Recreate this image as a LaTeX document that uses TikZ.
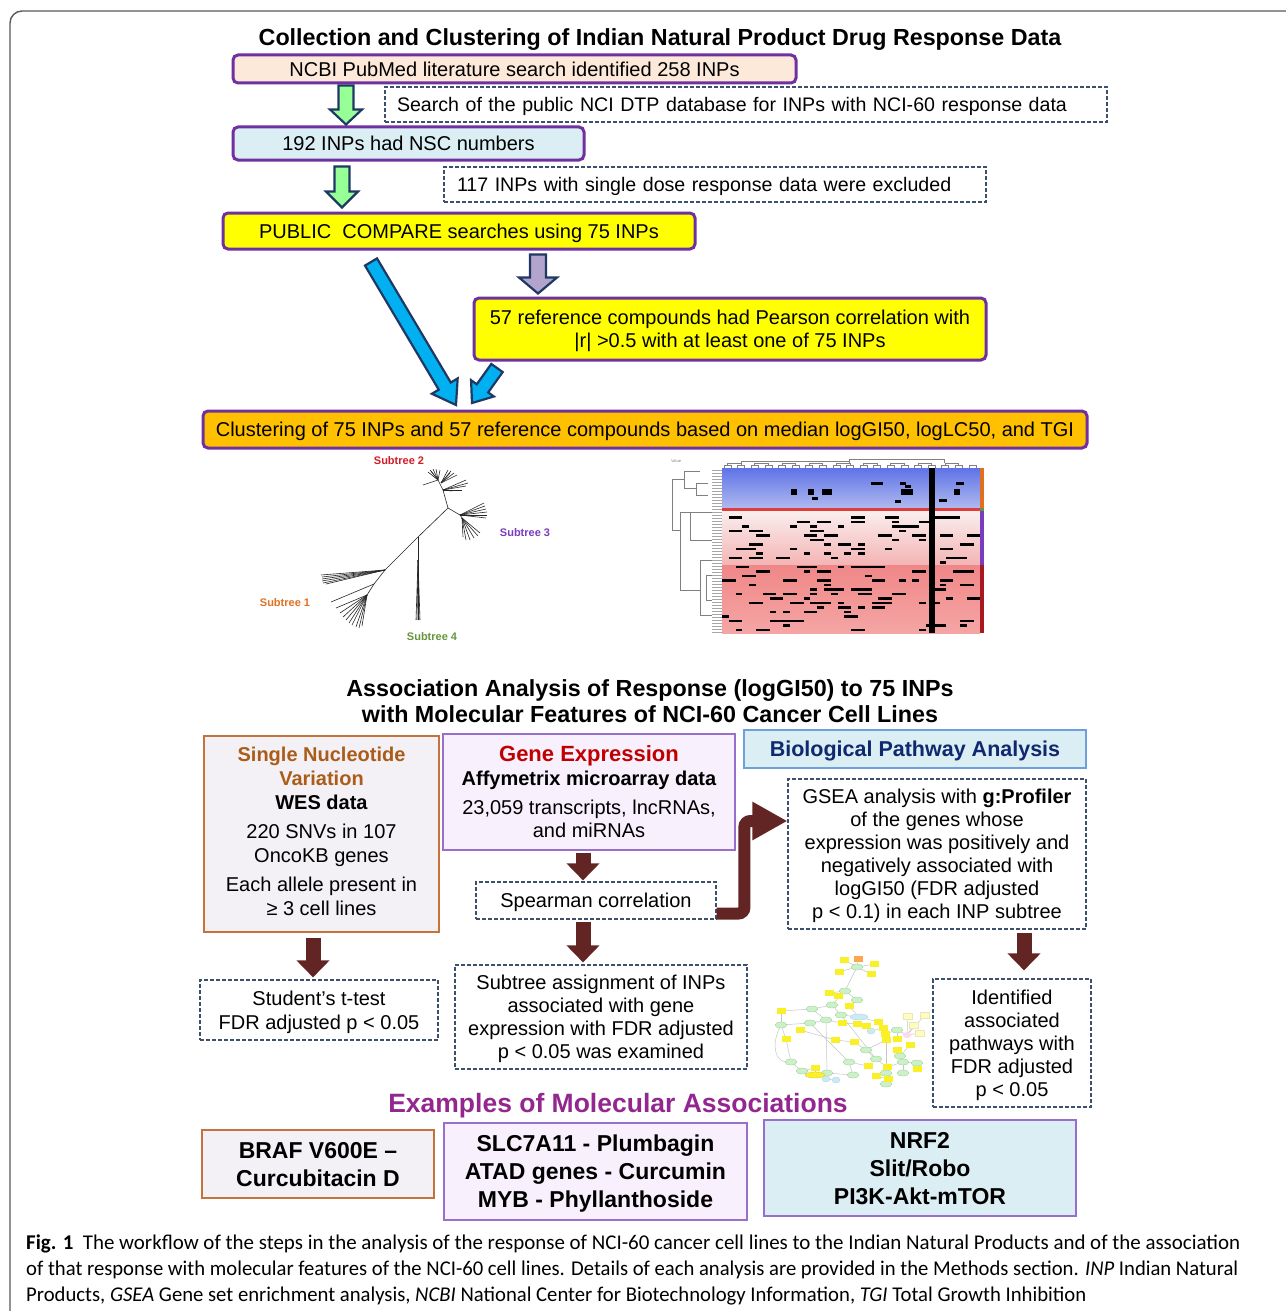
\documentclass[tikz,border=0pt]{standalone}
\usepackage{fontspec}
\setmainfont{Liberation Sans}
\newfontfamily\capfont{Carlito}
\usetikzlibrary{arrows.meta,calc}

\definecolor{peach}{RGB}{253,233,217}
\definecolor{lblue}{RGB}{218,238,243}
\definecolor{ylw}{RGB}{255,255,0}
\definecolor{orng}{RGB}{255,192,0}
\definecolor{bpurple}{RGB}{112,48,160}
\definecolor{navy}{RGB}{31,56,100}
\definecolor{dashc}{RGB}{60,80,110}
\definecolor{agreen}{RGB}{150,255,150}
\definecolor{apurple}{RGB}{178,164,204}
\definecolor{acyan}{RGB}{0,176,240}
\definecolor{dred}{RGB}{99,37,35}
\definecolor{snvfill}{RGB}{243,241,246}
\definecolor{snvdraw}{RGB}{196,116,56}
\definecolor{snvtext}{RGB}{170,92,24}
\definecolor{gefill}{RGB}{248,240,252}
\definecolor{gedraw}{RGB}{153,110,204}
\definecolor{gered}{RGB}{192,0,0}
\definecolor{bpadraw}{RGB}{110,160,220}
\definecolor{bpatext}{RGB}{16,40,110}
\definecolor{expurple}{RGB}{147,39,143}
\definecolor{framec}{RGB}{90,90,90}
\definecolor{stone}{RGB}{224,112,32}
\definecolor{sttwo}{RGB}{210,30,40}
\definecolor{stthree}{RGB}{120,60,190}
\definecolor{stfour}{RGB}{100,150,60}
\definecolor{hmblueA}{RGB}{95,115,230}
\definecolor{hmblueB}{RGB}{175,185,240}
\definecolor{hmredA}{RGB}{225,60,60}
\definecolor{hmredB}{RGB}{250,238,238}
\definecolor{hmredC}{RGB}{244,180,180}
\definecolor{hmredD}{RGB}{240,135,135}
\definecolor{hmredE}{RGB}{245,165,165}
\definecolor{netyel}{RGB}{250,240,40}
\definecolor{netgrn}{RGB}{205,240,200}
\definecolor{netblu}{RGB}{200,235,245}

\newcommand{\blockarrow}[6]{%
  \coordinate (bas) at (#2);
  \coordinate (bae) at (#3);
  \coordinate (bah) at ($(bae)!#6!(bas)$);
  \path[#1] ($(bas)!#4!90:(bae)$) -- ($(bah)!#4!90:(bae)$) -- ($(bah)!#5!90:(bae)$) -- (bae)
    -- ($(bah)!#5!-90:(bae)$) -- ($(bah)!#4!-90:(bae)$) -- ($(bas)!#4!-90:(bae)$) -- cycle;
}

\tikzset{
  txt/.style={font=\fontsize{20}{23}\selectfont, align=center, inner sep=0pt, text depth=0pt},
  pbox/.style={txt, draw=bpurple, line width=3pt, rounded corners=5pt},
  dbox/.style={txt, draw=dashc, line width=1.2pt, dash pattern=on 4pt off 2pt, fill=white},
  ttl/.style={font=\fontsize{23.3}{26}\selectfont\bfseries, inner sep=0pt},
  exbox/.style={font=\fontsize{23}{28}\selectfont\bfseries, align=center, inner sep=0pt, line width=1.5pt, text depth=0pt},
  outarrow/.style={draw=navy, line width=2.2pt, line join=miter},
  redarrow/.style={draw=dred, line width=15pt, -{Triangle[length=17pt,width=32pt]}},
  stlab/.style={font=\fontsize{11}{12}\selectfont\bfseries, inner sep=0pt},
  capline/.style={anchor=base west, inner sep=0pt},
}

\begin{document}
\begin{tikzpicture}[x=1pt,y=-1pt]
\useasboundingbox (0,0) rectangle (1285,1311);
\fill[white] (0,0) rectangle (1285,1311);

% outer frame
\draw[framec, line width=1.4pt, rounded corners=12pt] (10,1320) -- (10,11) -- (1295,11);

% ---------- Part 1 ----------
\node[ttl, anchor=base] (t1) at (660,45.5) {Collection and Clustering of Indian Natural Product Drug Response Data};

\node[pbox, fill=peach, minimum width=563pt, minimum height=28pt] (a) at (514.5,69) {NCBI PubMed literature search identified 258 INPs};
\node[dbox, font=\fontsize{19.6}{23}\selectfont, minimum width=722pt, minimum height=35pt, text width=698pt, align=left] (d1) at (746,104.5) {Search of the public NCI DTP database for INPs with NCI-60 response data};
\node[pbox, fill=lblue, minimum width=351pt, minimum height=33pt] (b) at (408.5,143.5) {192 INPs had NSC numbers};
\node[dbox, font=\fontsize{19.6}{23}\selectfont, minimum width=542pt, minimum height=35pt, text width=516pt, align=left] (d2) at (715,184.5) {117 INPs with single dose response data were excluded};
\node[pbox, fill=ylw, minimum width=472pt, minimum height=36pt] (c) at (459,231) {PUBLIC\ \ COMPARE searches using 75 INPs};
\node[pbox, fill=ylw, minimum width=512pt, minimum height=62pt] (d) at (730,329) {57 reference compounds had Pearson correlation with\\|r| >0.5 with at least one of 75 INPs};
\node[pbox, fill=orng, minimum width=884pt, minimum height=37pt] (e) at (645,429.5) {Clustering of 75 INPs and 57 reference compounds based on median logGI50, logLC50, and TGI};

\coordinate (gax) at (346,0);
\coordinate (gbx) at (342,0);
\coordinate (pax) at (538,0);
\blockarrow{outarrow, fill=agreen}{$(a.south -| gax)+(0,1)$}{$(b.north -| gax)+(0,-1)$}{7.5pt}{16pt}{15pt}
\blockarrow{outarrow, fill=agreen}{$(b.south -| gbx)+(0,5)$}{$(c.north -| gbx)+(0,-4)$}{7.5pt}{16pt}{16pt}
\blockarrow{outarrow, fill=apurple}{$(c.south -| pax)+(0,4)$}{$(d.north -| pax)+(0,-3)$}{8pt}{19pt}{16pt}

\coordinate (cyA) at (371,262);
\coordinate (cyB) at (456,405);
\coordinate (cyC) at (497,368);
\coordinate (cyD) at (472,403);
\blockarrow{outarrow, fill=acyan}{cyA}{cyB}{7pt}{15pt}{22pt}
\blockarrow{outarrow, fill=acyan}{cyC}{cyD}{7pt}{14pt}{18pt}

% ---------- tree ----------
\begin{scope}[line width=0.6pt, black!85]
\draw (367,595) -- (374,584) -- (385,570) -- (418,537) -- (448,508) -- (443,490) -- (438,480);
\draw (448,508) -- (460,515) -- (462,518);
\draw (418,537) -- (418,560);
\foreach \ex in {416,417,418,419,420}{\draw (418,560) -- (\ex,620);}
\foreach \ex/\ey in {428/472, 430/470, 433/469, 436/469, 440/470, 431/471}{\draw (438,480) -- (\ex,\ey);}
\foreach \ex/\ey in {448/470, 451/471, 454/473, 457/475, 450/473}{\draw (441,483) -- (\ex,\ey);}
\foreach \ex/\ey in {466/480, 468/483, 466/486, 462/490, 452/491}{\draw (443,490) -- (\ex,\ey);}
\draw (438,480) -- (423,485);
\foreach \ex/\ey in {484/503, 485/506, 486/509, 487/512, 487/515, 486/518}{\draw (460,515) -- (\ex,\ey);}
\foreach \ex/\ey in {480/533, 478/536, 474/538, 470/540, 466/540, 463/537}{\draw (462,518) -- (\ex,\ey);}
\foreach \ex/\ey in {321/575, 322/577, 322/579, 322/581, 323/583, 326/584}{\draw (385,570) -- (\ex,\ey);}
\draw (374,584) -- (331,602);
\foreach \ex/\ey in {336/608, 340/613, 343/617, 346/620, 349/623, 352/625, 356/627, 359/628, 362/626}{\draw (367,595) -- (\ex,\ey);}
\end{scope}
\node[stlab, text=sttwo] (s2) at (399,461) {Subtree 2};
\node[stlab, text=stthree] (s3) at (525,533) {Subtree 3};
\node[stlab, text=stone] (s1) at (285,603) {Subtree 1};
\node[stlab, text=stfour] (s4) at (432,637) {Subtree 4};

% ---------- heatmap ----------
\shade[top color=hmblueA, bottom color=hmblueB] (722,468) rectangle (980,508);
\fill[hmredA] (722,508) rectangle (980,511);
\shade[top color=hmredB, bottom color=hmredC] (722,511) rectangle (980,565);
\shade[top color=hmredD, bottom color=hmredE] (722,565) rectangle (980,633);
\pgfmathsetseed{12}
\foreach \i in {1,...,140}{
  \pgfmathsetmacro{\cx}{722+6.8*random(0,36)}
  \pgfmathsetmacro{\cy}{516+4.5*random(0,25)}
  \pgfmathsetmacro{\cw}{6.8*random(1,2)}
  \fill[black] (\cx,\cy) rectangle ++(\cw,2.6);
}
\foreach \sx/\sy/\sw in {871/482/12, 900/482/6, 956/482/8, 905/485/6, 895/500/6, 812/497/6, 939/499/8}{\fill[black] (\sx,\sy) rectangle ++(\sw,2.6);}
\foreach \sx/\sy in {791/489, 808/489, 822/489, 826/489, 901/489, 954/489, 907/489}{\fill[black] (\sx,\sy) rectangle ++(6,6);}
\fill[black] (929,468) rectangle (935,633);
\fill[stone] (980,468) rectangle (984,508);
\fill[stfour] (980,508) rectangle (984,511);
\fill[stthree] (980,511) rectangle (984,565);
\fill[sttwo!80!black] (980,565) rectangle (984,633);
\foreach \i in {0,...,18}{\draw[gray, line width=0.5pt] ({724+13.6*\i},468) -- ++(0,-3) -- ++(7,0) -- ++(0,3);}
\foreach \i in {0,...,8}{\draw[gray, line width=0.5pt] ({727.5+27.2*\i},465) -- ++(0,-2) -- ++(13.6,0) -- ++(0,2);}
\draw[gray, line width=0.5pt] (741,463) -- ++(0,-2) -- ++(108,0) -- ++(0,2);
\draw[gray, line width=0.5pt] (849,461) -- ++(0,-2) -- ++(95,0) -- ++(0,4);
\foreach \yy in {470,473,...,632}{\draw[gray!70, line width=0.6pt] (712,\yy) -- (722,\yy);}
\begin{scope}[gray, line width=0.6pt]
\draw (684,479) -- (672,479) -- (672,530) -- (680,530);
\draw (700,471) -- (684,471) -- (684,488) -- (696,488);
\draw (708,483) -- (696,483) -- (696,495) -- (708,495);
\draw (712,512) -- (680,512) -- (680,590) -- (700,590);
\draw (712,540) -- (690,540) -- (690,512);
\draw (712,560) -- (700,560) -- (700,615) -- (712,615);
\draw (712,575) -- (706,575) -- (706,600) -- (712,600);
\end{scope}
\node[font=\fontsize{4}{5}\selectfont, text=gray, inner sep=0pt] (val) at (676,461) {Value};

% ---------- Part 2 ----------
\node[ttl, anchor=base] (t2a) at (650,696) {Association Analysis of Response (logGI50) to 75 INPs};
\node[ttl, anchor=base] (t2b) at (650,722) {with Molecular Features of NCI-60 Cancer Cell Lines};

\node[txt, draw=snvdraw, fill=snvfill, line width=1.5pt, minimum width=235pt, minimum height=196pt, font=\fontsize{20}{24}\selectfont, text depth=6pt] (snv) at (321.5,834) {\textcolor{snvtext}{\textbf{Single Nucleotide}}\\\textcolor{snvtext}{\textbf{Variation}}\\\textbf{WES data}\\[5pt]220 SNVs in 107\\OncoKB genes\\[5pt]Each allele present in\\≥ 3 cell lines};
\node[txt, draw=gedraw, fill=gefill, line width=1.5pt, minimum width=292pt, minimum height=116pt] (ge) at (589,792) {\textcolor{gered}{\fontsize{22}{25}\selectfont\textbf{Gene Expression}}\\[1pt]\textbf{Affymetrix microarray data}\\[6pt]23,059 transcripts, lncRNAs,\\and miRNAs};
\node[inner sep=0pt, text depth=0pt, draw=bpadraw, fill=lblue, line width=1.5pt, minimum width=342pt, minimum height=38pt, font=\fontsize{21.5}{24}\selectfont\bfseries, text=bpatext] (bpa) at (915,749) {Biological Pathway Analysis};
\node[dbox, minimum width=298pt, minimum height=150pt] (gsea) at (937,854) {GSEA analysis with \textbf{g:Profiler}\\of the genes whose\\expression was positively and\\negatively associated with\\logGI50 (FDR adjusted\\p < 0.1) in each INP subtree};
\node[dbox, minimum width=240pt, minimum height=37pt] (sp) at (596,900.5) {Spearman correlation};
\node[dbox, font=\fontsize{20}{24}\selectfont, minimum width=238pt, minimum height=60pt] (stu) at (319,1010) {Student’s t-test\\FDR adjusted p < 0.05};
\node[dbox, minimum width=292pt, minimum height=104pt] (sub) at (601,1017) {Subtree assignment of INPs\\associated with gene\\expression with FDR adjusted\\p < 0.05 was examined};
\node[dbox, minimum width=158pt, minimum height=128pt] (idp) at (1012,1043) {Identified\\associated\\pathways with\\FDR adjusted\\p < 0.05};

\coordinate (rsx) at (313,0);
\coordinate (rgx) at (583,0);
\coordinate (rbx) at (1024,0);
\draw[redarrow] ($(snv.south -| rsx)+(0,5)$) -- ($(stu.north -| rsx)+(0,-2)$);
\draw[redarrow] ($(ge.south -| rgx)+(0,2)$) -- ($(sp.north -| rgx)+(0,-1)$);
\draw[redarrow] ($(sp.south -| rgx)+(0,2)$) -- ($(sub.north -| rgx)+(0,-2)$);
\draw[redarrow] ($(gsea.south -| rbx)+(0,3)$) -- ($(idp.north -| rbx)+(0,-8)$);
\draw[draw=dred, line width=12pt, rounded corners=6pt, -{Triangle[length=35pt,width=36pt]}]
  ($(sp.east)+(0,13)$) -| ($(gsea.west)+(-43,-33)$) -- ($(gsea.west)+(0,-33)$);

% ---------- network ----------
\begin{scope}[gray!45, line width=0.5pt]
\foreach \ax/\ay/\bx/\by in {857/967/844/960, 857/967/858/959, 857/967/874/964, 857/967/839/972, 857/967/871/974, 857/967/845/991,
 845/991/829/993, 845/991/838/996, 845/991/857/1000, 857/1000/849/1006, 832/1005/812/1009, 812/1009/781/1011, 832/1005/841/1015,
 826/1020/810/1023, 810/1023/781/1025, 781/1025/786/1039, 786/1039/791/1062, 791/1062/802/1071, 802/1071/815/1068, 815/1068/815/1075,
 826/1020/842/1023, 842/1023/857/1024, 857/1024/866/1026, 859/1017/878/1022, 878/1022/883/1028, 883/1028/885/1034, 885/1034/897/1030,
 897/1030/897/1039, 886/1040/866/1050, 866/1050/876/1059, 876/1059/887/1067, 887/1067/903/1062, 903/1062/917/1063, 903/1062/903/1073,
 886/1073/886/1084, 876/1076/888/1079, 849/1062/868/1066, 853/1075/827/1073, 835/1040/854/1042, 854/1042/866/1050, 800/1030/835/1040,
 810/1023/849/1062, 841/1015/876/1059, 826/1020/827/1073, 907/1035/908/1016, 907/1035/925/1015, 907/1035/914/1025, 907/1035/920/1033,
 897/1030/907/1035, 900/1056/897/1050, 900/1056/910/1045, 849/1006/859/1017, 781/1011/781/1025, 812/1009/826/1020, 841/1015/859/1017,
 845/991/832/1005, 871/1031/883/1028, 886/1040/886/1073, 836/1080/826/1079, 849/1062/853/1075}
 {\draw (\ax,\ay) -- (\bx,\by);}
\draw (781,1025) .. controls (770,1045) and (775,1065) .. (791,1062);
\end{scope}
\foreach \nx/\ny in {857/967, 845/991, 857/1000, 832/1005, 812/1009, 781/1025, 810/1023, 826/1020, 841/1015, 791/1062, 802/1071,
 827/1073, 849/1062, 866/1050, 876/1059, 897/1030, 903/1062, 903/1073, 886/1073, 917/1063, 886/1084, 853/1075, 900/1056}
 {\fill[netgrn, draw=green!40!gray!60, line width=0.3pt] (\nx,\ny) ellipse (6pt and 3pt);}
\foreach \nx/\ny in {871/1031, 826/1079, 836/1080}{\fill[netblu, draw=cyan!30!gray!50, line width=0.3pt] (\nx,\ny) ellipse (4pt and 3pt);}
\fill[netblu, draw=cyan!30!gray!50, line width=0.3pt] (859,1017) ellipse (9pt and 3pt);
\fill[netyel, draw=yellow!60!gray, line width=0.3pt] (815,1075) ellipse (10pt and 3pt);
\fill[magenta!15] (907,1035) ellipse (4pt and 3pt);
\foreach \nx/\ny in {844/960, 874/964, 839/972, 871/974, 829/993, 838/996, 849/1006, 781/1011, 800/1030, 786/1039, 842/1023,
 857/1024, 866/1026, 878/1022, 883/1028, 885/1034, 897/1039, 886/1040, 897/1050, 910/1045, 835/1040, 854/1042, 815/1068,
 868/1066, 887/1067, 917/1069, 876/1076, 888/1079}
 {\fill[netyel] (\nx-4.5,\ny-3) rectangle ++(9,6);}
\fill[orange!70] (858-4.5,959-3) rectangle ++(9,6);
\foreach \nx/\ny in {908/1016, 925/1015, 914/1025, 920/1033}{\fill[yellow!25, draw=yellow!50!gray!40, line width=0.3pt] (\nx-4.5,\ny-3) rectangle ++(9,6);}

% ---------- Examples ----------
\node[anchor=base, inner sep=0pt, font=\fontsize{26.5}{30}\selectfont\bfseries, text=expurple] (ex) at (618,1112.5) {Examples of Molecular Associations};
\node[exbox, draw=snvdraw, fill=snvfill, minimum width=232pt, minimum height=68pt] (braf) at (318,1164) {BRAF V600E –\\Curcubitacin D};
\node[exbox, draw=gedraw, fill=gefill, minimum width=303pt, minimum height=97pt] (slc) at (595.5,1171.5) {SLC7A11 - Plumbagin\\ATAD genes - Curcumin\\MYB - Phyllanthoside};
\node[exbox, draw=gedraw, fill=lblue, minimum width=312pt, minimum height=96pt] (nrf) at (920,1168) {NRF2\\Slit/Robo\\PI3K-Akt-mTOR};

% ---------- caption ----------
\node[capline] (cap1) at (26,1249) {\resizebox{1214pt}{\height}{\capfont\fontsize{21}{24}\selectfont\textbf{Fig. 1}\ \ The workflow of the steps in the analysis of the response of NCI-60 cancer cell lines to the Indian Natural Products and of the association}};
\node[capline] (cap2) at (26,1275) {\resizebox{1212pt}{\height}{\capfont\fontsize{21}{24}\selectfont of that response with molecular features of the NCI-60 cell lines. Details of each analysis are provided in the Methods section. \textit{INP} Indian Natural}};
\node[capline] (cap3) at (26,1301) {\resizebox{1060pt}{\height}{\capfont\fontsize{21}{24}\selectfont Products, \textit{GSEA} Gene set enrichment analysis, \textit{NCBI} National Center for Biotechnology Information, \textit{TGI} Total Growth Inhibition}};
\end{tikzpicture}
\end{document}
